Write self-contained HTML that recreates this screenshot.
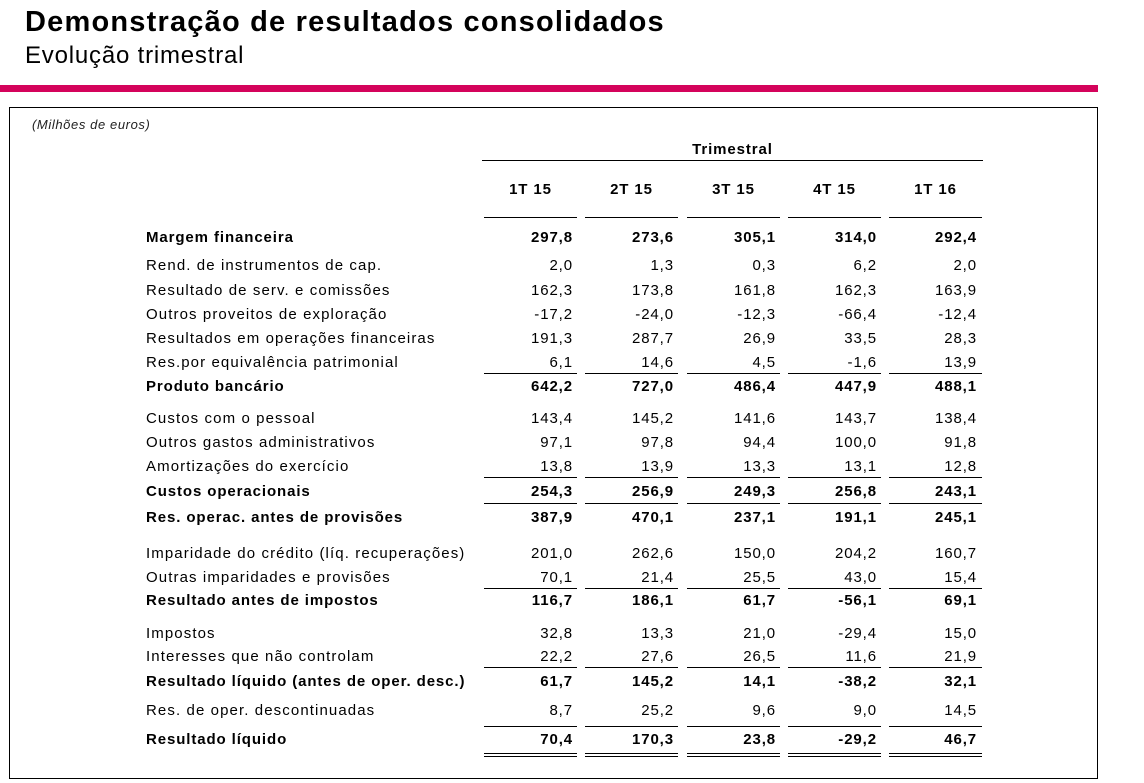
<!DOCTYPE html>
<html><head><meta charset="utf-8"><style>
*{margin:0;padding:0}
body{width:1144px;height:783px;background:#fff;position:relative;overflow:hidden;font-family:"Liberation Sans",sans-serif;color:#000}
.t{position:absolute;left:25px;top:6px;font-size:29px;font-weight:bold;letter-spacing:1.2px;white-space:nowrap}
.s{position:absolute;left:25px;top:42px;font-size:24px;letter-spacing:0.8px;white-space:nowrap}
.bar{position:absolute;left:0;top:85px;width:1098px;height:7px;background:#d4035b}
.box{position:absolute;left:9px;top:107px;width:1087px;height:670px;border:1.5px solid #000}
.r{position:absolute;left:0;width:1144px;height:18px;line-height:18px;font-size:15px;letter-spacing:0.9px;white-space:nowrap;margin-top:1px}
.r span{position:absolute;top:0}
.r .l{left:146px;letter-spacing:1.1px}
.r.b .l{letter-spacing:0.9px}
.r .v{text-align:right;width:120px}
.b{font-weight:bold}
.ln{position:absolute;height:1.3px;background:#000}
</style></head><body>
<div class="t">Demonstração de resultados consolidados</div>
<div class="s">Evolução trimestral</div>
<div class="bar"></div>
<div class="box"></div>
<div style="position:absolute;left:32px;top:117px;font-size:13px;font-style:italic;letter-spacing:0.6px;color:#222">(Milhões de euros)</div>
<div style="position:absolute;left:482px;width:501px;top:141px;text-align:center;font-size:15px;font-weight:bold;letter-spacing:0.9px">Trimestral</div>
<div class="ln" style="left:482px;width:501px;top:160px"></div>
<div class="r b" style="top:180px">
<span style="left:484px;width:93px;text-align:center">1T 15</span>
<span style="left:585px;width:93px;text-align:center">2T 15</span>
<span style="left:687px;width:93px;text-align:center">3T 15</span>
<span style="left:788px;width:93px;text-align:center">4T 15</span>
<span style="left:889px;width:93px;text-align:center">1T 16</span>
</div>
<div class="r b" style="top:228px"><span class="l">Margem financeira</span><span class="v" style="left:453px">297,8</span><span class="v" style="left:554px">273,6</span><span class="v" style="left:656px">305,1</span><span class="v" style="left:757px">314,0</span><span class="v" style="left:857px">292,4</span></div>
<div class="r" style="top:256px"><span class="l">Rend. de instrumentos de cap.</span><span class="v" style="left:453px">2,0</span><span class="v" style="left:554px">1,3</span><span class="v" style="left:656px">0,3</span><span class="v" style="left:757px">6,2</span><span class="v" style="left:857px">2,0</span></div>
<div class="r" style="top:281px"><span class="l">Resultado de serv. e comissões</span><span class="v" style="left:453px">162,3</span><span class="v" style="left:554px">173,8</span><span class="v" style="left:656px">161,8</span><span class="v" style="left:757px">162,3</span><span class="v" style="left:857px">163,9</span></div>
<div class="r" style="top:305px"><span class="l">Outros proveitos de exploração</span><span class="v" style="left:453px">-17,2</span><span class="v" style="left:554px">-24,0</span><span class="v" style="left:656px">-12,3</span><span class="v" style="left:757px">-66,4</span><span class="v" style="left:857px">-12,4</span></div>
<div class="r" style="top:329px"><span class="l">Resultados em operações financeiras</span><span class="v" style="left:453px">191,3</span><span class="v" style="left:554px">287,7</span><span class="v" style="left:656px">26,9</span><span class="v" style="left:757px">33,5</span><span class="v" style="left:857px">28,3</span></div>
<div class="r" style="top:353px"><span class="l">Res.por equivalência patrimonial</span><span class="v" style="left:453px">6,1</span><span class="v" style="left:554px">14,6</span><span class="v" style="left:656px">4,5</span><span class="v" style="left:757px">-1,6</span><span class="v" style="left:857px">13,9</span></div>
<div class="r b" style="top:377px"><span class="l">Produto bancário</span><span class="v" style="left:453px">642,2</span><span class="v" style="left:554px">727,0</span><span class="v" style="left:656px">486,4</span><span class="v" style="left:757px">447,9</span><span class="v" style="left:857px">488,1</span></div>
<div class="r" style="top:409px"><span class="l">Custos com o pessoal</span><span class="v" style="left:453px">143,4</span><span class="v" style="left:554px">145,2</span><span class="v" style="left:656px">141,6</span><span class="v" style="left:757px">143,7</span><span class="v" style="left:857px">138,4</span></div>
<div class="r" style="top:433px"><span class="l">Outros gastos administrativos</span><span class="v" style="left:453px">97,1</span><span class="v" style="left:554px">97,8</span><span class="v" style="left:656px">94,4</span><span class="v" style="left:757px">100,0</span><span class="v" style="left:857px">91,8</span></div>
<div class="r" style="top:457px"><span class="l">Amortizações do exercício</span><span class="v" style="left:453px">13,8</span><span class="v" style="left:554px">13,9</span><span class="v" style="left:656px">13,3</span><span class="v" style="left:757px">13,1</span><span class="v" style="left:857px">12,8</span></div>
<div class="r b" style="top:482px"><span class="l">Custos operacionais</span><span class="v" style="left:453px">254,3</span><span class="v" style="left:554px">256,9</span><span class="v" style="left:656px">249,3</span><span class="v" style="left:757px">256,8</span><span class="v" style="left:857px">243,1</span></div>
<div class="r b" style="top:508px"><span class="l">Res. operac. antes de provisões</span><span class="v" style="left:453px">387,9</span><span class="v" style="left:554px">470,1</span><span class="v" style="left:656px">237,1</span><span class="v" style="left:757px">191,1</span><span class="v" style="left:857px">245,1</span></div>
<div class="r" style="top:544px"><span class="l">Imparidade do crédito (líq. recuperações)</span><span class="v" style="left:453px">201,0</span><span class="v" style="left:554px">262,6</span><span class="v" style="left:656px">150,0</span><span class="v" style="left:757px">204,2</span><span class="v" style="left:857px">160,7</span></div>
<div class="r" style="top:568px"><span class="l">Outras imparidades e provisões</span><span class="v" style="left:453px">70,1</span><span class="v" style="left:554px">21,4</span><span class="v" style="left:656px">25,5</span><span class="v" style="left:757px">43,0</span><span class="v" style="left:857px">15,4</span></div>
<div class="r b" style="top:591px"><span class="l">Resultado antes de impostos</span><span class="v" style="left:453px">116,7</span><span class="v" style="left:554px">186,1</span><span class="v" style="left:656px">61,7</span><span class="v" style="left:757px">-56,1</span><span class="v" style="left:857px">69,1</span></div>
<div class="r" style="top:624px"><span class="l">Impostos</span><span class="v" style="left:453px">32,8</span><span class="v" style="left:554px">13,3</span><span class="v" style="left:656px">21,0</span><span class="v" style="left:757px">-29,4</span><span class="v" style="left:857px">15,0</span></div>
<div class="r" style="top:647px"><span class="l">Interesses que não controlam</span><span class="v" style="left:453px">22,2</span><span class="v" style="left:554px">27,6</span><span class="v" style="left:656px">26,5</span><span class="v" style="left:757px">11,6</span><span class="v" style="left:857px">21,9</span></div>
<div class="r b" style="top:672px"><span class="l">Resultado líquido (antes de oper. desc.)</span><span class="v" style="left:453px">61,7</span><span class="v" style="left:554px">145,2</span><span class="v" style="left:656px">14,1</span><span class="v" style="left:757px">-38,2</span><span class="v" style="left:857px">32,1</span></div>
<div class="r" style="top:701px"><span class="l">Res. de oper. descontinuadas</span><span class="v" style="left:453px">8,7</span><span class="v" style="left:554px">25,2</span><span class="v" style="left:656px">9,6</span><span class="v" style="left:757px">9,0</span><span class="v" style="left:857px">14,5</span></div>
<div class="r b" style="top:730px"><span class="l">Resultado líquido</span><span class="v" style="left:453px">70,4</span><span class="v" style="left:554px">170,3</span><span class="v" style="left:656px">23,8</span><span class="v" style="left:757px">-29,2</span><span class="v" style="left:857px">46,7</span></div>

<div style="position:absolute;left:0;top:0">
<div class="ln" style="left:484px;width:93px;top:217px"></div><div class="ln" style="left:585px;width:93px;top:217px"></div><div class="ln" style="left:687px;width:93px;top:217px"></div><div class="ln" style="left:788px;width:93px;top:217px"></div><div class="ln" style="left:889px;width:93px;top:217px"></div>
<div class="ln" style="left:484px;width:93px;top:373px"></div><div class="ln" style="left:585px;width:93px;top:373px"></div><div class="ln" style="left:687px;width:93px;top:373px"></div><div class="ln" style="left:788px;width:93px;top:373px"></div><div class="ln" style="left:889px;width:93px;top:373px"></div>
<div class="ln" style="left:484px;width:93px;top:477px"></div><div class="ln" style="left:585px;width:93px;top:477px"></div><div class="ln" style="left:687px;width:93px;top:477px"></div><div class="ln" style="left:788px;width:93px;top:477px"></div><div class="ln" style="left:889px;width:93px;top:477px"></div>
<div class="ln" style="left:484px;width:93px;top:503px"></div><div class="ln" style="left:585px;width:93px;top:503px"></div><div class="ln" style="left:687px;width:93px;top:503px"></div><div class="ln" style="left:788px;width:93px;top:503px"></div><div class="ln" style="left:889px;width:93px;top:503px"></div>
<div class="ln" style="left:484px;width:93px;top:588px"></div><div class="ln" style="left:585px;width:93px;top:588px"></div><div class="ln" style="left:687px;width:93px;top:588px"></div><div class="ln" style="left:788px;width:93px;top:588px"></div><div class="ln" style="left:889px;width:93px;top:588px"></div>
<div class="ln" style="left:484px;width:93px;top:667px"></div><div class="ln" style="left:585px;width:93px;top:667px"></div><div class="ln" style="left:687px;width:93px;top:667px"></div><div class="ln" style="left:788px;width:93px;top:667px"></div><div class="ln" style="left:889px;width:93px;top:667px"></div>
<div class="ln" style="left:484px;width:93px;top:726px"></div><div class="ln" style="left:585px;width:93px;top:726px"></div><div class="ln" style="left:687px;width:93px;top:726px"></div><div class="ln" style="left:788px;width:93px;top:726px"></div><div class="ln" style="left:889px;width:93px;top:726px"></div>
<div class="ln" style="left:484px;width:93px;top:753px"></div><div class="ln" style="left:585px;width:93px;top:753px"></div><div class="ln" style="left:687px;width:93px;top:753px"></div><div class="ln" style="left:788px;width:93px;top:753px"></div><div class="ln" style="left:889px;width:93px;top:753px"></div>
<div class="ln" style="left:484px;width:93px;top:756px"></div><div class="ln" style="left:585px;width:93px;top:756px"></div><div class="ln" style="left:687px;width:93px;top:756px"></div><div class="ln" style="left:788px;width:93px;top:756px"></div><div class="ln" style="left:889px;width:93px;top:756px"></div>
</div>
</body></html>
